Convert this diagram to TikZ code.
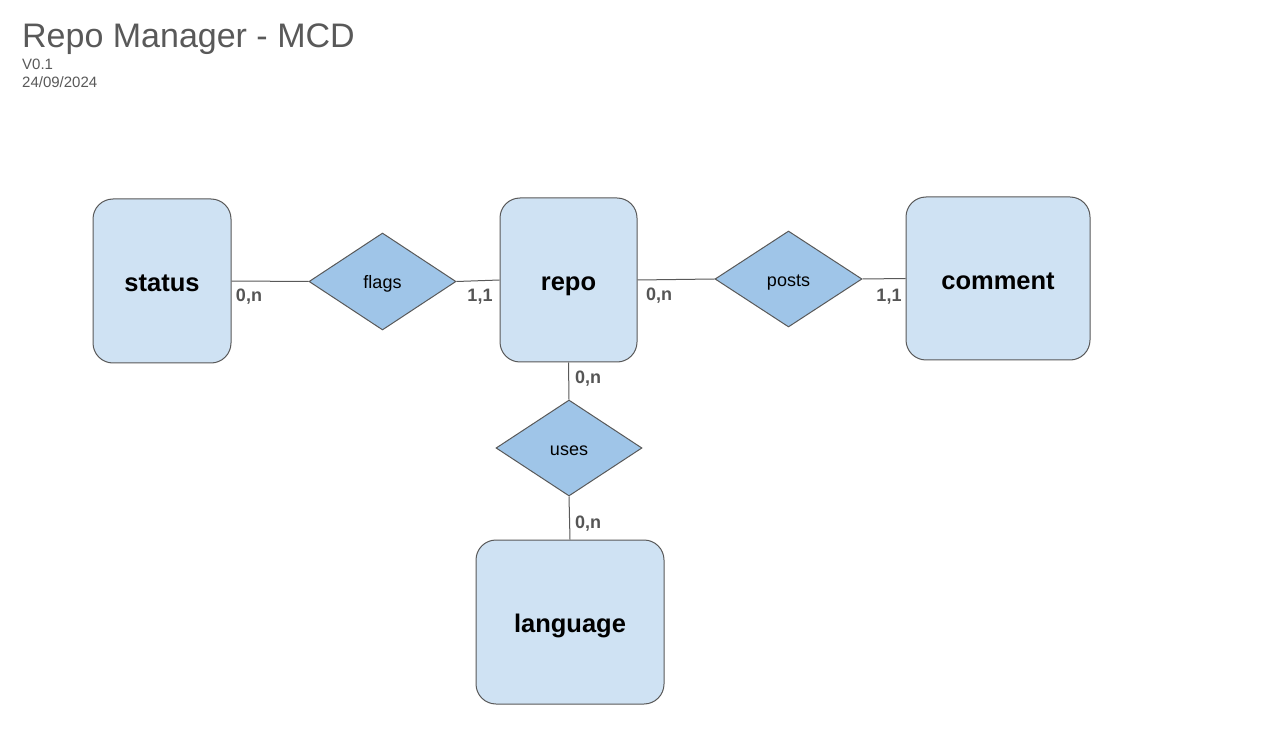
\documentclass[tikz,border=0pt]{standalone}
\usepackage{fontspec}
\setmainfont{Liberation Sans}
\usetikzlibrary{shapes.geometric}
\definecolor{entfill}{HTML}{CFE2F3}
\definecolor{relfill}{HTML}{9FC5E8}
\definecolor{strokec}{HTML}{595959}
\definecolor{titlec}{HTML}{595959}
\definecolor{cardc}{HTML}{555555}
\begin{document}
\begin{tikzpicture}[x=1pt,y=-1pt,
  entity/.style={draw=strokec, line width=1pt, fill=entfill, rounded corners=20pt, inner sep=0pt,
    text height=27pt, text depth=5.4pt,
    font=\fontsize{25.5}{30}\selectfont\bfseries},
  relation/.style={diamond, draw=strokec, line width=1pt, fill=relfill, inner sep=0pt, aspect=1.52,
    text height=18pt, text depth=3.8pt,
    font=\fontsize{18}{22}\selectfont},
  card/.style={text=cardc, font=\fontsize{18}{22}\selectfont\bfseries, inner sep=0pt},
  link/.style={draw=strokec, line width=1pt}]
\useasboundingbox (0,0) rectangle (1267,735);
\fill[white] (0,0) rectangle (1267,735);
% title
\node[anchor=base west, text=titlec, inner sep=0pt, font=\fontsize{34}{38}\selectfont] (title) at (22,48) {Repo Manager - MCD};
\node[anchor=base west, text=titlec, inner sep=0pt, font=\fontsize{15}{17}\selectfont] (ver) at (22,70) {V0.1};
\node[anchor=base west, text=titlec, inner sep=0pt, font=\fontsize{15}{17}\selectfont] (date) at (22,88) {24/09/2024};
% entities
\node[entity, minimum width=138pt, minimum height=164pt] (status) at (162,281) {status};
\node[entity, minimum width=137pt, minimum height=164pt] (repo) at (568.5,280) {repo};
\node[entity, minimum width=184pt, minimum height=163pt] (comment) at (998,278.5) {comment};
\node[entity, minimum width=188pt, minimum height=164pt] (language) at (570,622) {language};
% relations
\node[relation, minimum width=147pt, minimum height=97pt] (flags) at (382.5,281.5) {flags};
\node[relation, minimum width=147pt, minimum height=96pt] (posts) at (788.5,279) {posts};
\node[relation, minimum width=146pt, minimum height=96pt] (uses) at (569,448) {uses};
% links
\draw[link] (status.east) -- (flags.west);
\draw[link] (flags.east) -- (repo.west);
\draw[link] (repo.east) -- (posts.west);
\draw[link] (posts.east) -- (comment.west);
\draw[link] (repo.south) -- (uses.north);
\draw[link] (uses.south) -- (language.north);
% cardinalities
\node[card] (c1) at (249,297) {0,n};
\node[card] (c2) at (480,297) {1,1};
\node[card] (c3) at (659,296) {0,n};
\node[card] (c4) at (889,297) {1,1};
\node[card] (c5) at (588,379) {0,n};
\node[card] (c6) at (588,524) {0,n};
\end{tikzpicture}
\end{document}
